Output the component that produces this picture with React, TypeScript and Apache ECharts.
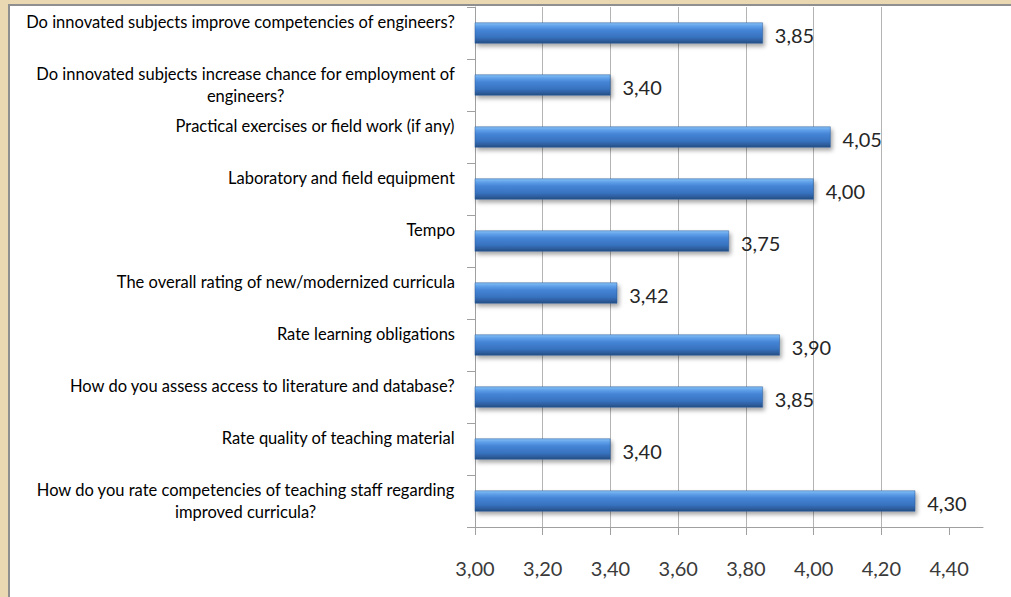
import React, { useEffect, useRef } from "react";
import * as echarts from "echarts";

const categories: string[] = [
  "Do innovated subjects improve competencies of engineers?",
  "Do innovated subjects increase chance for employment of\nengineers?",
  "Practical exercises or field work (if any)",
  "Laboratory and field equipment",
  "Tempo",
  "The overall rating of new/modernized curricula",
  "Rate learning obligations",
  "How do you assess access to literature and database?",
  "Rate quality of teaching material",
  "How do you rate competencies of teaching staff regarding\nimproved curricula?",
];

const values: number[] = [3.85, 3.4, 4.05, 4.0, 3.75, 3.42, 3.9, 3.85, 3.4, 4.3];

const xTicks: number[] = [3.0, 3.2, 3.4, 3.6, 3.8, 4.0, 4.2, 4.4];

const fmt = (v: number) => v.toFixed(2).replace(".", ",");

export default function App() {
  const ref = useRef<HTMLDivElement>(null);
  useEffect(() => {
    document.body.style.margin = "0";
    const chart = echarts.init(ref.current!, undefined, { renderer: "svg" });
    const labelFont = "Lato, 'Noto Sans', sans-serif";
    chart.setOption({
      animation: false,
      backgroundColor: "#EAD8B3",
      graphic: [
        {
          type: "rect",
          z: -100,
          shape: { x: 9, y: 5, width: 1020, height: 610 },
          style: { fill: "#ffffff", stroke: "#8f8f8f", lineWidth: 2 },
        },
      ],
      grid: { left: 475, right: 28, top: 7, bottom: 70, containLabel: false },
      xAxis: {
        type: "value",
        min: 3,
        max: 4.5,
        interval: 0.2,
        axisLine: { show: true, lineStyle: { color: "#a0a0a0", width: 1 } },
        axisTick: {
          show: true,
          length: 8,
          customValues: xTicks,
          lineStyle: { color: "#a0a0a0" },
        },
        axisLabel: {
          customValues: xTicks,
          formatter: (v: number) => fmt(v),
          fontFamily: labelFont,
          fontSize: 20,
          color: "#3a3a3a",
          margin: 31,
        },
        splitLine: {
          show: true,
          showMaxLine: false,
          lineStyle: { color: "#b4b4b4", width: 1 },
        },
      },
      yAxis: {
        type: "category",
        inverse: true,
        data: categories,
        axisLine: { show: true, lineStyle: { color: "#a0a0a0", width: 1 } },
        axisTick: { show: true, length: 8, lineStyle: { color: "#a0a0a0" } },
        axisLabel: {
          margin: 20,
          formatter: (v: string) => {
            const lines = v.split("\n");
            if (lines.length === 1) lines.push(" ");
            return lines.map((l) => `{c|${l}}`).join("\n");
          },
          rich: {
            c: {
              align: "center",
              fontFamily: labelFont,
              fontSize: 16.5,
              lineHeight: 22,
              color: "#000000",
            },
          },
        },
      },
      series: [
        {
          type: "bar",
          data: values,
          barWidth: 21,
          itemStyle: {
            color: new echarts.graphic.LinearGradient(0, 0, 0, 1, [
              { offset: 0, color: "#86c0f6" },
              { offset: 0.15, color: "#62a2ea" },
              { offset: 0.35, color: "#4585d6" },
              { offset: 0.7, color: "#3872bf" },
              { offset: 0.88, color: "#2c5c9b" },
              { offset: 1, color: "#234d84" },
            ]),
            borderColor: "#2a5894",
            borderWidth: 0.5,
            shadowColor: "rgba(0,0,0,0.35)",
            shadowBlur: 4,
            shadowOffsetX: 2,
            shadowOffsetY: 3,
          },
          label: {
            show: true,
            position: "right",
            distance: 12,
            offset: [0, 2],
            formatter: (p: any) => fmt(p.value),
            fontFamily: labelFont,
            fontSize: 20,
            color: "#262626",
          },
        },
      ],
    });
    return () => chart.dispose();
  }, []);
  return <div ref={ref} style={{ width: 1011, height: 597 }} />;
}
